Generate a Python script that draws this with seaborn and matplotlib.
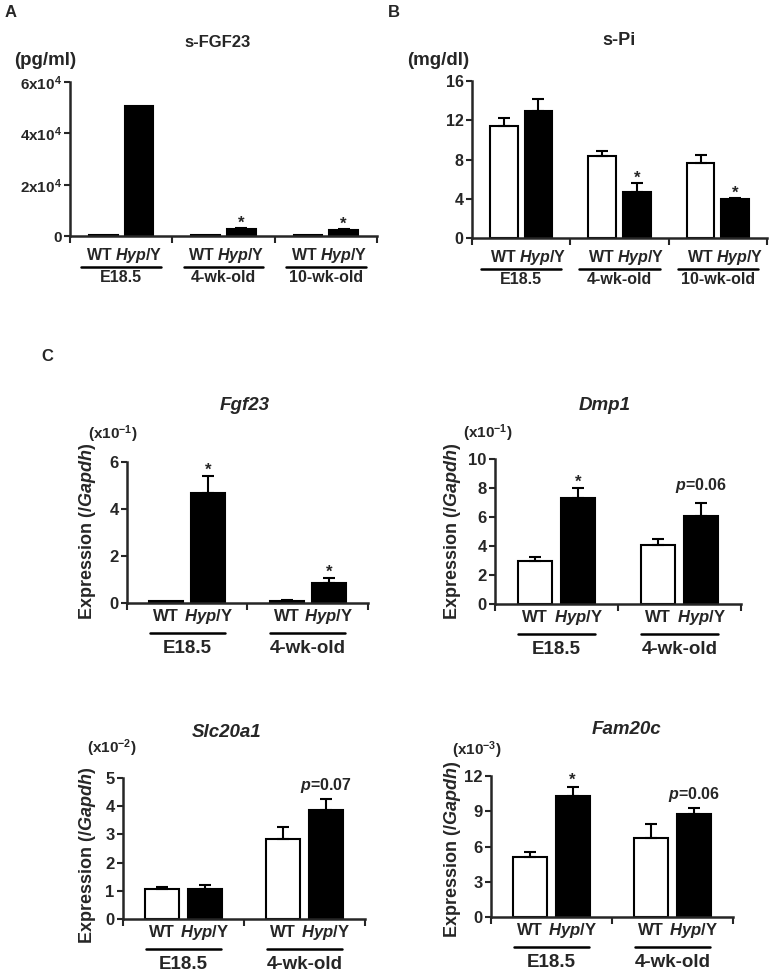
import numpy as np
import pandas as pd
import matplotlib
matplotlib.use("Agg")
import matplotlib.pyplot as plt
import matplotlib.transforms as mtransforms
import seaborn as sns

# ---- data ----
genotypes = ["WT", "Hyp/Y"]
ages_ab = ["E18.5", "4-wk-old", "10-wk-old"]
ages_c = ["E18.5", "4-wk-old"]

sfgf23_wt = [400, 300, 300]
sfgf23_wt_err = [0, 0, 0]
sfgf23_hyp = [50500, 2800, 2500]
sfgf23_hyp_err = [0, 400, 300]

spi_wt = [11.4, 8.4, 7.7]
spi_wt_err = [0.8, 0.5, 0.8]
spi_hyp = [13.0, 4.7, 4.0]
spi_hyp_err = [1.2, 0.9, 0.1]

fgf23_wt = [0.07, 0.10]
fgf23_wt_err = [0.0, 0.03]
fgf23_hyp = [4.7, 0.85]
fgf23_hyp_err = [0.7, 0.2]

dmp1_wt = [2.95, 4.1]
dmp1_wt_err = [0.3, 0.4]
dmp1_hyp = [7.3, 6.1]
dmp1_hyp_err = [0.7, 0.85]

slc20a1_wt = [1.05, 2.84]
slc20a1_wt_err = [0.1, 0.43]
slc20a1_hyp = [1.08, 3.86]
slc20a1_hyp_err = [0.13, 0.4]

fam20c_wt = [5.1, 6.7]
fam20c_wt_err = [0.4, 1.2]
fam20c_hyp = [10.3, 8.8]
fam20c_hyp_err = [0.8, 0.45]

sns.set_style("ticks")
plt.rcParams["font.family"] = ["Liberation Sans", "DejaVu Sans"]
plt.rcParams["font.weight"] = "bold"
plt.rcParams["mathtext.fontset"] = "custom"
plt.rcParams["mathtext.rm"] = "Liberation Sans:bold"
plt.rcParams["mathtext.it"] = "Liberation Sans:bold:italic"
plt.rcParams["mathtext.bf"] = "Liberation Sans:bold"

HYP = r"$\it{Hyp}$/Y"


def draw_panel(ax, ages, wt, wt_err, hyp, hyp_err, ylim, yticks, yticklabels,
               marks, lab_dy, line_dy, grp_dy, line_half, fs_lab, fs_grp, fs_tick, fs_p,
               joined=None):
    df = pd.DataFrame({
        "age": ages * 2,
        "genotype": ["WT"] * len(ages) + ["Hyp/Y"] * len(ages),
        "value": wt + hyp,
    })
    sns.barplot(data=df, x="age", y="value", hue="genotype", order=ages,
                hue_order=genotypes, palette={"WT": "white", "Hyp/Y": "black"},
                edgecolor="black", linewidth=1.5, width=0.7, gap=0.2,
                errorbar=None, legend=False, ax=ax)
    errs = [wt_err, hyp_err]
    centers = {}
    bar_containers = list(ax.containers)
    for gi, cont in enumerate(bar_containers):
        for bi, bar in enumerate(cont):
            xc = bar.get_x() + bar.get_width() / 2
            h = bar.get_height()
            e = errs[gi][bi]
            centers[(gi, bi)] = (xc, h + e)
            if e > 0:
                ax.errorbar(xc, h, yerr=[[0], [e]], fmt="none", ecolor="black",
                            elinewidth=1.5, capsize=4.5, capthick=1.5, zorder=1)
    for (gi, bi), txt, dy in marks:
        xc, top = centers[(gi, bi)]
        ax.annotate(txt, (xc, top), xytext=(0, dy), textcoords="offset points",
                    ha="center", va="bottom", fontsize=fs_p if txt != "*" else 12,
                    fontweight="bold")
    n = len(ages)
    ax.set_xlim(-0.5, n - 0.5)
    ax.set_ylim(*ylim)
    ax.set_yticks(yticks)
    ax.set_yticklabels(yticklabels, fontsize=fs_tick, fontweight="bold")
    ax.set_xticks(np.arange(-0.5, n, 1.0))
    ax.set_xticklabels([])
    ax.set_xlabel("")
    ax.set_ylabel("")
    sns.despine(ax=ax)
    for s in ("left", "bottom"):
        ax.spines[s].set_linewidth(1.8)
    ax.tick_params(axis="y", direction="out", length=4, width=1.5, pad=2)
    ax.tick_params(axis="x", direction="out", length=5, width=1.5)

    fig = ax.figure
    blend = mtransforms.blended_transform_factory(ax.transData, ax.transAxes)

    def off(dy):
        return blend + mtransforms.ScaledTranslation(0, -dy / 72, fig.dpi_scale_trans)

    for bi in range(n):
        if joined is None:
            ax.text(centers[(0, bi)][0], 0, "WT", transform=off(lab_dy), ha="center",
                    va="center", fontsize=fs_lab, fontweight="bold")
            ax.text(centers[(1, bi)][0], 0, HYP, transform=off(lab_dy), ha="center",
                    va="center", fontsize=fs_lab, fontweight="bold")
        else:
            ax.text(bi + joined, 0, "WT " + HYP, transform=off(lab_dy), ha="center",
                    va="center", fontsize=fs_lab, fontweight="bold")
        ax.plot([bi - line_half, bi + line_half], [0, 0], color="black", lw=1.8,
                transform=off(line_dy), clip_on=False)
        ax.text(bi, 0, ages[bi], transform=off(grp_dy), ha="center", va="center",
                fontsize=fs_grp, fontweight="bold")


fig = plt.figure(figsize=(7.71, 9.74), dpi=100)

# ---- A ----
axA = fig.add_axes([0.0908, 0.7577, 0.398, 0.158])
draw_panel(axA, ages_ab, sfgf23_wt, sfgf23_wt_err, sfgf23_hyp, sfgf23_hyp_err,
           (0, 60000), [0, 20000, 40000, 60000],
           ["0", r"2x10$^{\mathrm{4}}$", r"4x10$^{\mathrm{4}}$", r"6x10$^{\mathrm{4}}$"],
           [((1, 1), "*", -2), ((1, 2), "*", -2)],
           lab_dy=14, line_dy=22, grp_dy=30, line_half=0.39,
           fs_lab=11.5, fs_grp=11.5, fs_tick=11, fs_p=11.5, joined=0.03)
axA.text(0.48, 1.26, "s-FGF23", transform=axA.transAxes, ha="center", va="center",
         fontsize=12, fontweight="bold")
axA.text(-0.08, 1.14, "(pg/ml)", transform=axA.transAxes, ha="center", va="center",
         fontsize=13.5, fontweight="bold")

# ---- B ----
axB = fig.add_axes([0.612, 0.7556, 0.383, 0.161])
draw_panel(axB, ages_ab, spi_wt, spi_wt_err, spi_hyp, spi_hyp_err,
           (0, 16), [0, 4, 8, 12, 16], ["0", "4", "8", "12", "16"],
           [((1, 1), "*", -2), ((1, 2), "*", -2)],
           lab_dy=14, line_dy=22, grp_dy=30, line_half=0.41,
           fs_lab=11.5, fs_grp=11.5, fs_tick=11.5, fs_p=11.5, joined=0.07)
axB.text(0.50, 1.26, "s-Pi", transform=axB.transAxes, ha="center", va="center",
         fontsize=13, fontweight="bold")
axB.text(-0.115, 1.13, "(mg/dl)", transform=axB.transAxes, ha="center", va="center",
         fontsize=13.5, fontweight="bold")

# ---- C ----
c_specs = [
    ("Fgf23", [0.1647, 0.3809, 0.3126, 0.1448], fgf23_wt, fgf23_wt_err, fgf23_hyp, fgf23_hyp_err,
     (0, 6), [0, 2, 4, 6], r"(x10$^{\mathrm{-1}}$)",
     [((1, 0), "*", -1), ((1, 1), "*", -1)],
     (0.49, 1.40), (-0.06, 1.20), (-0.162, 0.51)),
    ("Dmp1", [0.642, 0.3799, 0.319, 0.1489], dmp1_wt, dmp1_wt_err, dmp1_hyp, dmp1_hyp_err,
     (0, 10), [0, 2, 4, 6, 8, 10], r"(x10$^{\mathrm{-1}}$)",
     [((1, 0), "*", -1), ((1, 1), r"$\it{p}$=0.06", 6)],
     (0.447, 1.37), (-0.03, 1.18), (-0.171, 0.50)),
    ("Slc20a1", [0.1595, 0.0565, 0.3139, 0.1448], slc20a1_wt, slc20a1_wt_err, slc20a1_hyp,
     slc20a1_hyp_err, (0, 5), [0, 1, 2, 3, 4, 5], r"(x10$^{\mathrm{-2}}$)",
     [((1, 1), r"$\it{p}$=0.07", 3)],
     (0.43, 1.32), (-0.045, 1.21), (-0.145, 0.45)),
    ("Fam20c", [0.6368, 0.0585, 0.3139, 0.1448], fam20c_wt, fam20c_wt_err, fam20c_hyp,
     fam20c_hyp_err, (0, 12), [0, 3, 6, 9, 12], r"(x10$^{\mathrm{-3}}$)",
     [((1, 0), "*", -1), ((1, 1), r"$\it{p}$=0.06", 3)],
     (0.56, 1.33), (-0.058, 1.18), (-0.161, 0.48)),
]

for (title, rect, wt, wte, hyp, hype, ylim, yt, unit, marks,
     tpos, upos, ylpos) in c_specs:
    ax = fig.add_axes(rect)
    draw_panel(ax, ages_c, wt, wte, hyp, hype, ylim, yt, [str(t) for t in yt], marks,
               lab_dy=10, line_dy=21.5, grp_dy=33, line_half=0.31,
               fs_lab=12, fs_grp=13.5, fs_tick=12, fs_p=11.5)
    ax.text(tpos[0], tpos[1], title, transform=ax.transAxes, ha="center", va="center",
            fontsize=13.5, fontweight="bold", fontstyle="italic")
    ax.text(upos[0], upos[1], unit, transform=ax.transAxes, ha="center", va="center",
            fontsize=11, fontweight="bold")
    ax.set_ylabel(r"Expression (/$\it{Gapdh}$)", fontsize=13, fontweight="bold", va="center")
    ax.yaxis.set_label_coords(ylpos[0], ylpos[1])

fig.text(0.006, 0.987, "A", fontsize=12, fontweight="bold", va="center")
fig.text(0.503, 0.987, "B", fontsize=12, fontweight="bold", va="center")
fig.text(0.054, 0.634, "C", fontsize=12, fontweight="bold", va="center")

fig.savefig("out.png", dpi=100)
